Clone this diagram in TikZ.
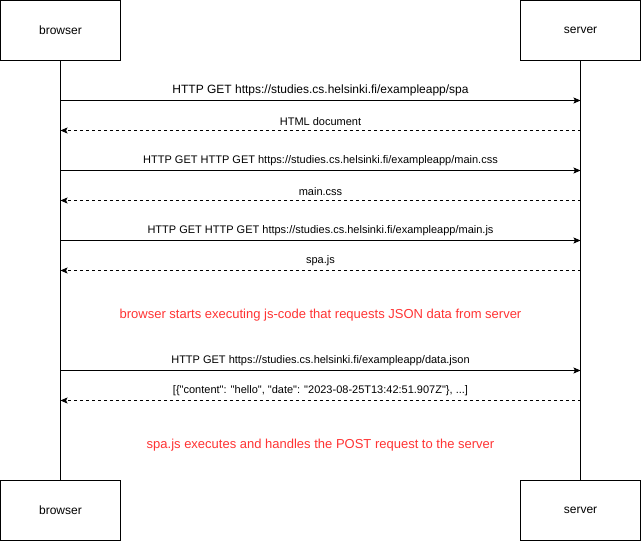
\documentclass[tikz,border=0pt]{standalone}
\usepackage{fontspec}
\setmainfont{Liberation Sans}
\newfontfamily\plainfont{Liberation Sans}[Ligatures=TeXOff]
\usetikzlibrary{arrows.meta}
\definecolor{notered}{HTML}{FF3333}
\tikzset{
  actor/.style={draw, line width=0.8pt, minimum width=120pt, minimum height=60pt, inner sep=0pt, font=\fontsize{12}{14}\selectfont},
  lifeline/.style={line width=0.8pt},
  req/.style={line width=0.8pt, -{Stealth[length=7pt,width=6pt,inset=1.5pt]}},
  resp/.style={line width=0.8pt, dash pattern=on 3pt off 3pt, -{Stealth[length=7pt,width=6pt,inset=1.5pt]}},
  msg/.style={font=\fontsize{11}{13}\selectfont, inner sep=1pt},
  bigmsg/.style={font=\fontsize{12}{14}\selectfont, inner sep=1pt},
  note/.style={font=\fontsize{13}{15}\selectfont, text=notered, inner sep=1pt}
}
\begin{document}
\begin{tikzpicture}[x=1pt,y=-1pt]
\useasboundingbox (-0.5,-0.5) rectangle (640.5,540.5);
\node[actor] (b1) at (60,30) {browser};
\node[actor] (s1) at (580,30) {server};
\node[actor] (b2) at (60,510) {browser};
\node[actor] (s2) at (580,510) {server};
\draw[lifeline] (b1.south) -- (b2.north);
\draw[lifeline] (s1.south) -- (s2.north);
\foreach \n/\y in {1/100,2/130,3/170,4/200,5/240,6/270,7/370,8/400}{
  \coordinate (b\n) at (60,\y);
  \coordinate (s\n) at (580,\y);
}
\draw[req] (b1) -- (s1) node[bigmsg, midway, above=3pt] {HTTP GET https://studies.cs.helsinki.fi/exampleapp/spa};
\draw[resp] (s2) -- (b2) node[msg, midway, above=3pt] {HTML document};
\draw[req] (b3) -- (s3) node[msg, midway, above=3pt] {HTTP GET HTTP GET https://studies.cs.helsinki.fi/exampleapp/main.css};
\draw[resp] (s4) -- (b4) node[msg, midway, above=3pt] {main.css};
\draw[req] (b5) -- (s5) node[msg, midway, above=3pt] {HTTP GET HTTP GET https://studies.cs.helsinki.fi/exampleapp/main.js};
\draw[resp] (s6) -- (b6) node[msg, midway, above=3pt] {spa.js};
\node[note] (n1) at (320,315) {browser starts executing js-code that requests JSON data from server};
\draw[req] (b7) -- (s7) node[msg, midway, above=3pt] {HTTP GET https://studies.cs.helsinki.fi/exampleapp/data.json};
\draw[resp] (s8) -- (b8) node[msg, midway, above=3pt] {\plainfont [\{"content": "hello", "date": "2023-08-25T13:42:51.907Z"\}, ...]};
\node[note] (n2) at (320,445) {spa.js executes and handles the POST request to the server};
\end{tikzpicture}
\end{document}
